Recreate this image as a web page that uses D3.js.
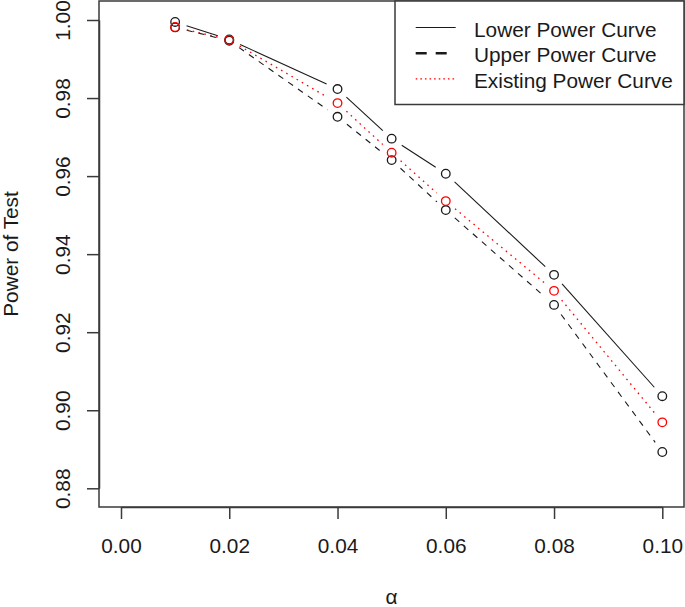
<!DOCTYPE html>
<html>
<head>
<meta charset="utf-8">
<script src="https://cdn.jsdelivr.net/npm/d3@7"></script>
<style>
  html, body { margin: 0; padding: 0; background: #fff; }
  svg { display: block; font-family: "Liberation Sans", Arial, sans-serif; }
</style>
</head>
<body>
<svg id="chart" width="685" height="607"></svg>
<script>
// ---- data ----
const alphas = [0.01, 0.02, 0.04, 0.05, 0.06, 0.08, 0.10];
const lowerPower = [0.9995, 0.9950, 0.9823, 0.9696, 0.9606, 0.9347, 0.9036];
const upperPower = [0.9981, 0.9947, 0.9752, 0.9641, 0.9513, 0.9270, 0.8893];
const existingPower = [0.9982, 0.9949, 0.9787, 0.9660, 0.9536, 0.9306, 0.8969];
const xTicks = [0.00, 0.02, 0.04, 0.06, 0.08, 0.10];
const yTicks = [0.88, 0.90, 0.92, 0.94, 0.96, 0.98, 1.00];
const legendLabels = ["Lower Power Curve", "Upper Power Curve", "Existing Power Curve"];
const xTitle = "α";
const yTitle = "Power of Test";

// ---- layout ----
const box = { left: 99, right: 684, top: 1, bottom: 507 };
const fontSize = 20.8;
const svg = d3.select("#chart");

const x = d3.scaleLinear().domain([0, 0.10]).range([121, 662.3]);
const y = d3.scaleLinear().domain([0.88, 1.00]).range([488.3, 20]);

const series = [
  { values: lowerPower, color: "#1a1a1a", dash: null, width: 1.1 },
  { values: upperPower, color: "#1a1a1a", dash: "6,6", width: 1.1 },
  { values: existingPower, color: "#ff0000", dash: "1.6,4.4", width: 1.3 }
];

// frame
svg.append("rect")
  .attr("x", box.left).attr("y", box.top)
  .attr("width", box.right - box.left).attr("height", box.bottom - box.top)
  .attr("fill", "none").attr("stroke", "#3a3a3a").attr("stroke-width", 1.5);

// x axis
const gx = svg.append("g")
  .attr("transform", `translate(0,${box.bottom})`)
  .call(d3.axisBottom(x).tickValues(xTicks).tickFormat(d3.format(".2f"))
    .tickSize(12).tickSizeOuter(0));
gx.select(".domain").attr("stroke", "#3a3a3a").attr("stroke-width", 1.5);
gx.selectAll(".tick line").attr("stroke", "#3a3a3a").attr("stroke-width", 1.5);
gx.selectAll(".tick text")
  .attr("y", 46).attr("dy", 0)
  .attr("fill", "#1a1a1a")
  .style("font-size", fontSize + "px")
  .style("font-family", "'Liberation Sans', Arial, sans-serif");

// y axis
const gy = svg.append("g")
  .attr("transform", `translate(${box.left},0)`)
  .call(d3.axisLeft(y).tickValues(yTicks).tickFormat(d3.format(".2f"))
    .tickSize(12).tickSizeOuter(0));
gy.select(".domain").attr("stroke", "#3a3a3a").attr("stroke-width", 1.5);
gy.selectAll(".tick line").attr("stroke", "#3a3a3a").attr("stroke-width", 1.5);
gy.selectAll(".tick text")
  .attr("transform", "rotate(-90)")
  .attr("x", 0).attr("y", -29).attr("dy", 0)
  .attr("text-anchor", "middle")
  .attr("fill", "#1a1a1a")
  .style("font-size", fontSize + "px")
  .style("font-family", "'Liberation Sans', Arial, sans-serif");

// axis titles
svg.append("text")
  .attr("transform", `translate(18,${(box.top + box.bottom) / 2}) rotate(-90)`)
  .attr("text-anchor", "middle")
  .attr("fill", "#1a1a1a")
  .style("font-size", fontSize + "px")
  .text(yTitle);
svg.append("text")
  .attr("x", (box.left + box.right) / 2).attr("y", 604)
  .attr("text-anchor", "middle")
  .attr("fill", "#1a1a1a")
  .style("font-size", fontSize + "px")
  .text(xTitle);

// series: lines with gaps (type = "b") and open circles
const gap = 12;
series.forEach(s => {
  const pts = alphas.map((a, i) => [x(a), y(s.values[i])]);
  const segs = [];
  for (let i = 0; i < pts.length - 1; i++) {
    const [x0, y0] = pts[i], [x1, y1] = pts[i + 1];
    const dx = x1 - x0, dy = y1 - y0, len = Math.hypot(dx, dy);
    if (len > 2 * gap) {
      const ux = dx / len, uy = dy / len;
      segs.push([x0 + ux * gap, y0 + uy * gap, x1 - ux * gap, y1 - uy * gap]);
    }
  }
  const g = svg.append("g");
  g.selectAll("line").data(segs).join("line")
    .attr("x1", d => d[0]).attr("y1", d => d[1])
    .attr("x2", d => d[2]).attr("y2", d => d[3])
    .attr("stroke", s.color).attr("stroke-width", s.width)
    .attr("stroke-dasharray", s.dash);
  g.selectAll("circle").data(pts).join("circle")
    .attr("cx", d => d[0]).attr("cy", d => d[1]).attr("r", 4.3)
    .attr("fill", "none").attr("stroke", s.color).attr("stroke-width", 1.3);
});

// legend
svg.append("rect")
  .attr("x", 395).attr("y", box.top)
  .attr("width", box.right - 395).attr("height", 104.5 - box.top)
  .attr("fill", "#fff").attr("stroke", "#3a3a3a").attr("stroke-width", 1.5);
const legendStyles = [
  { color: "#1a1a1a", dash: null, width: 1.1 },
  { color: "#1a1a1a", dash: "11,9", width: 2.6 },
  { color: "#ff0000", dash: "1.6,3", width: 1.3 }
];
const lg = svg.append("g");
legendLabels.forEach((lab, i) => {
  const ly = 27.5 + i * 25.7;
  lg.append("line")
    .attr("x1", 415.7).attr("x2", 455.7).attr("y1", ly).attr("y2", ly)
    .attr("stroke", legendStyles[i].color)
    .attr("stroke-width", legendStyles[i].width)
    .attr("stroke-dasharray", legendStyles[i].dash);
  lg.append("text")
    .attr("x", 474).attr("y", ly + 9)
    .attr("fill", "#1a1a1a")
    .style("font-size", fontSize + "px")
    .text(lab);
});
</script>
</body>
</html>
